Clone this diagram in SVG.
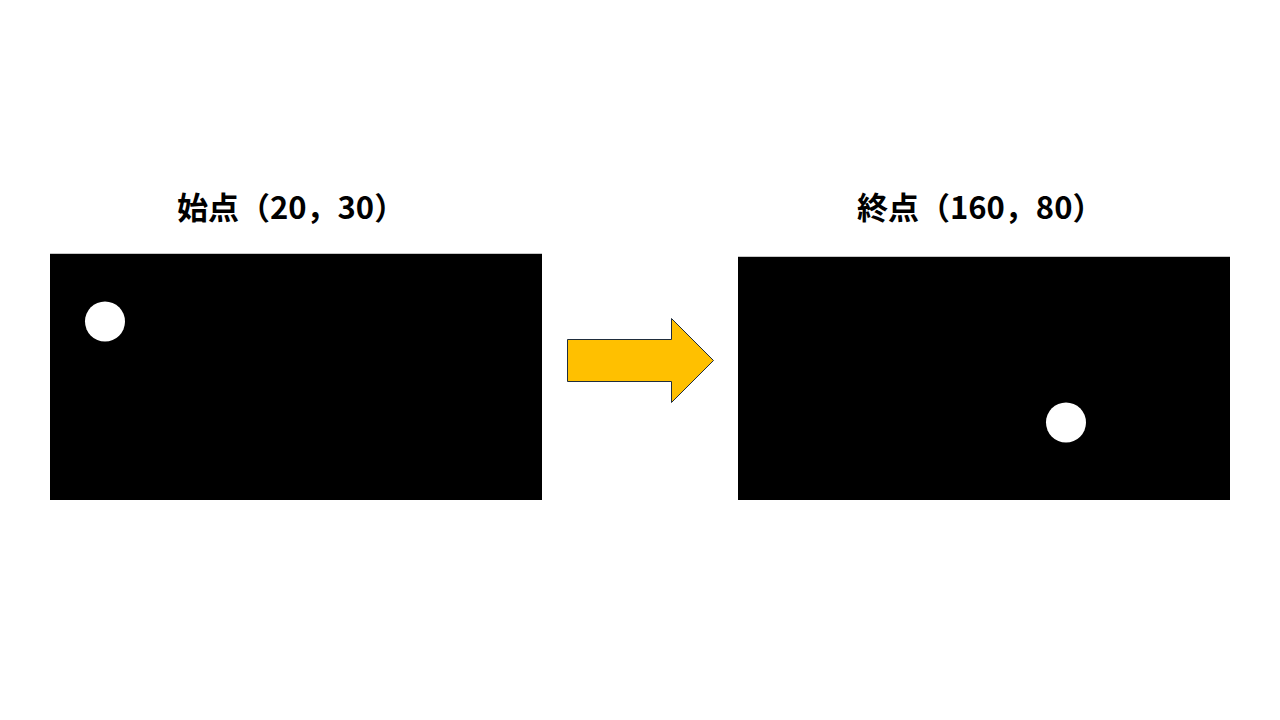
<svg xmlns="http://www.w3.org/2000/svg" width="1280" height="720" viewBox="0 0 1280 720">
<style>
.lbl{font-family:"Noto Sans CJK JP","Noto Sans CJK SC",sans-serif;font-weight:bold;font-size:31px;fill:#000}
.frame{fill:#000}
.topline{stroke:#c8c8c8;stroke-width:1}
.ball{fill:#fff}
</style>
<rect width="1280" height="720" fill="#fff"/>
<g id="start">
<text class="lbl" x="177" y="219">始点（20，30）</text>
<rect class="frame" x="50" y="253.5" width="492" height="246.5"/>
<line class="topline" x1="50" y1="253.5" x2="542" y2="253.5"/>
<circle class="ball" cx="105" cy="321.5" r="20"/>
</g>
<g id="end">
<text class="lbl" x="857" y="219">終点（160，80）</text>
<rect class="frame" x="738" y="256.5" width="492" height="243.5"/>
<line class="topline" x1="738" y1="256.5" x2="1230" y2="256.5"/>
<circle class="ball" cx="1066" cy="422.5" r="20"/>
</g>
<g id="connectors">
<polygon points="567.5,339.5 671.5,339.5 671.5,318.5 713.5,360.5 671.5,402.5 671.5,381.5 567.5,381.5" fill="#FFC000" stroke="#1F2D3D" stroke-width="1"/>
</g>
</svg>
